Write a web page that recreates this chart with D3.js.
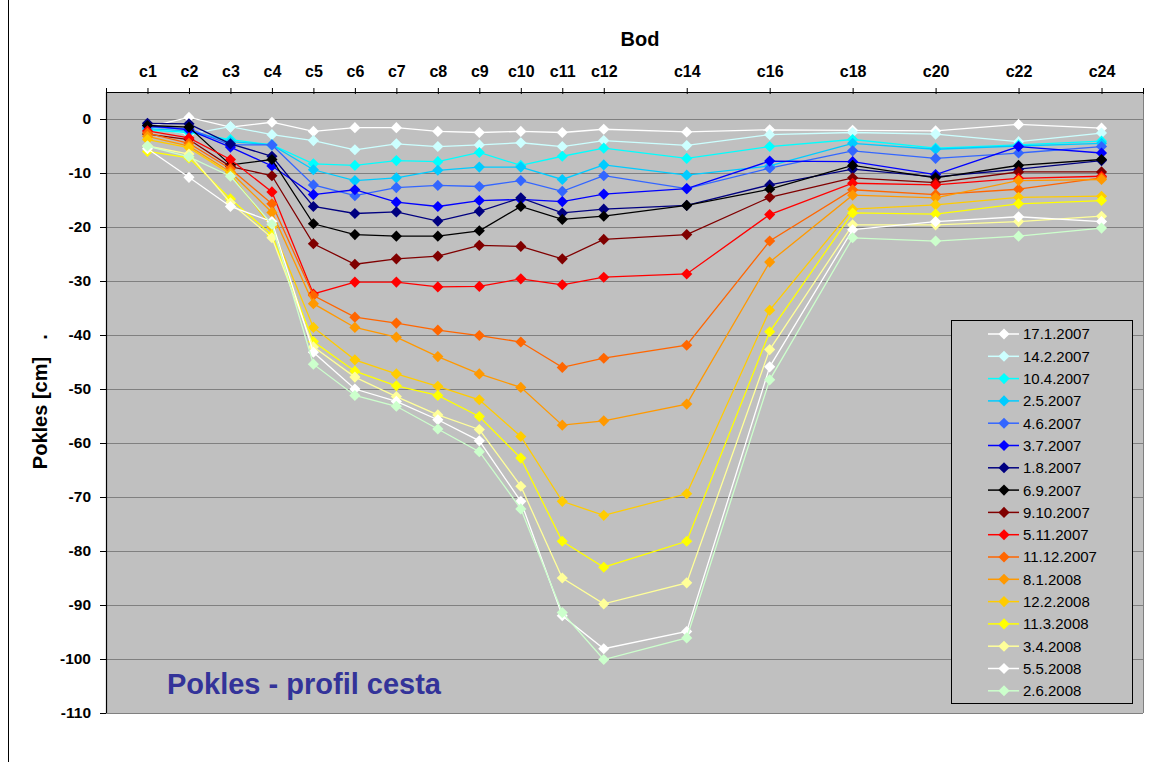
<!DOCTYPE html>
<html>
<head>
<meta charset="utf-8">
<script src="https://cdn.jsdelivr.net/npm/d3@7"></script>
<style>
  body { margin: 0; background: #fff; }
  svg { display: block; font-family: "Liberation Sans", Arial, sans-serif; }
</style>
</head>
<body>
<svg id="chart" width="1155" height="762"></svg>
<script>
// measuring points along the road profile
const categories = ["c1", "c2", "c3", "c4", "c5", "c6", "c7", "c8", "c9", "c10", "c11", "c12", "c14", "c16", "c18", "c20", "c22", "c24"];
const yTicks = [0, -10, -20, -30, -40, -50, -60, -70, -80, -90, -100, -110];

const dates = ["17.1.2007", "14.2.2007", "10.4.2007", "2.5.2007", "4.6.2007", "3.7.2007", "1.8.2007", "6.9.2007",
  "9.10.2007", "5.11.2007", "11.12.2007", "8.1.2008", "12.2.2008", "11.3.2008", "3.4.2008", "5.5.2008", "2.6.2008"];
const colors = ["#ffffff", "#ccffff", "#00ffff", "#00ccff", "#3366ff", "#0000ff", "#000080", "#000000",
  "#800000", "#ff0000", "#ff6600", "#ff9900", "#ffcc00", "#ffff00", "#ffff99", "#ffffff", "#ccffcc"];

// settlement [cm], one value per point
const s17_1_2007  = [-1.5, 0.3, -1.5, -0.6, -2.3, -1.6, -1.6, -2.3, -2.5, -2.3, -2.5, -1.9, -2.4, -2.0, -2.1, -2.2, -1.0, -1.7];
const s14_2_2007  = [-1.5, -2.8, -1.4, -2.9, -4.0, -5.7, -4.6, -5.1, -4.8, -4.4, -5.1, -4.0, -4.9, -2.9, -2.5, -2.8, -4.2, -2.6];
const s10_4_2007  = [-2.0, -2.5, -3.8, -4.8, -8.3, -8.6, -7.7, -7.9, -6.2, -8.6, -6.9, -5.4, -7.3, -5.1, -3.8, -5.4, -4.8, -4.1];
const s2_5_2007   = [-1.8, -2.2, -4.2, -4.8, -9.4, -11.4, -10.9, -9.5, -8.9, -8.9, -11.2, -8.5, -10.4, -8.7, -4.5, -5.6, -5.0, -4.5];
const s4_6_2007   = [-1.5, -1.8, -4.8, -4.8, -12.2, -14.2, -12.7, -12.3, -12.5, -11.4, -13.4, -10.5, -12.9, -9.1, -5.9, -7.3, -6.3, -5.1];
const s3_7_2007   = [-1.2, -2.0, -5.2, -8.7, -14.0, -13.1, -15.4, -16.2, -15.1, -14.9, -15.3, -13.9, -12.9, -7.8, -7.9, -10.3, -5.1, -6.3];
const s1_8_2007   = [-0.8, -0.9, -4.6, -6.9, -16.2, -17.5, -17.2, -18.9, -17.1, -14.6, -17.4, -16.7, -16.0, -12.2, -9.3, -10.7, -9.3, -7.7];
const s6_9_2007   = [-1.2, -1.5, -8.5, -7.5, -19.4, -21.4, -21.7, -21.7, -20.7, -16.2, -18.6, -18.0, -16.0, -13.0, -8.6, -10.9, -8.6, -7.5];
const s9_10_2007  = [-2.8, -3.8, -8.8, -10.5, -23.1, -26.9, -25.9, -25.4, -23.4, -23.6, -25.9, -22.3, -21.4, -14.5, -10.9, -11.8, -9.8, -9.8];
const s5_11_2007  = [-2.2, -3.5, -7.5, -13.5, -32.4, -30.2, -30.2, -31.1, -31.0, -29.6, -30.7, -29.3, -28.7, -17.7, -11.9, -12.2, -11.0, -10.6];
const s11_12_2007 = [-2.6, -4.5, -9.2, -15.7, -32.7, -36.7, -37.8, -39.1, -40.1, -41.3, -46.0, -44.3, -41.9, -22.6, -13.1, -14.0, -13.0, -10.9];
const s8_1_2008   = [-3.2, -5.0, -9.8, -17.3, -34.2, -38.6, -40.4, -44.0, -47.2, -49.7, -56.7, -55.9, -52.8, -26.5, -14.1, -14.6, -11.4, -11.2];
const s12_2_2008  = [-3.8, -5.3, -10.2, -20.0, -38.6, -44.6, -47.2, -49.5, -52.0, -58.8, -70.8, -73.4, -69.4, -35.4, -16.7, -15.9, -14.5, -14.3];
const s11_3_2008  = [-6.0, -7.2, -14.8, -21.5, -41.2, -46.7, -49.4, -51.2, -55.1, -62.8, -78.2, -83.0, -78.2, -39.4, -17.4, -17.6, -15.7, -15.1];
const s3_4_2008   = [-5.0, -6.5, -15.5, -22.0, -42.2, -47.8, -51.4, -54.8, -57.5, -68.0, -85.0, -89.8, -85.9, -42.7, -19.6, -19.6, -19.0, -18.0];
const s5_5_2008   = [-5.5, -10.8, -16.2, -19.0, -43.2, -50.0, -52.3, -55.7, -59.6, -70.8, -92.0, -98.1, -94.9, -45.9, -20.5, -19.0, -18.1, -19.0];
const s2_6_2008   = [-5.0, -7.0, -10.6, -19.5, -45.4, -51.2, -53.2, -57.4, -61.6, -72.2, -91.4, -100.1, -96.1, -48.3, -22.0, -22.6, -21.7, -20.2];

const seriesValues = [s17_1_2007, s14_2_2007, s10_4_2007, s2_5_2007, s4_6_2007, s3_7_2007, s1_8_2007, s6_9_2007,
  s9_10_2007, s5_11_2007, s11_12_2007, s8_1_2008, s12_2_2008, s11_3_2008, s3_4_2008, s5_5_2008, s2_6_2008];

const series = dates.map((d, i) => ({
  name: d,
  color: colors[i],
  points: categories.map((c, j) => ({ pos: +c.slice(1), value: seriesValues[i][j] }))
}));

const plot = { left: 106, right: 1143, top: 92, bottom: 713 };
const svg = d3.select("#chart");

const x = d3.scaleLinear().domain([0, 25]).range([plot.left, plot.right]);
const y = d3.scaleLinear().domain([-110, 5]).range([plot.bottom, plot.top]);

// outer chart frame (left edge visible)
svg.append("line")
  .attr("x1", 8.5).attr("x2", 8.5).attr("y1", 0).attr("y2", 762)
  .attr("stroke", "#000").attr("stroke-width", 1);

// plot background
svg.append("rect")
  .attr("x", plot.left).attr("y", plot.top)
  .attr("width", plot.right - plot.left).attr("height", plot.bottom - plot.top)
  .attr("fill", "#c0c0c0");

svg.append("line")
  .attr("x1", plot.right + 0.5).attr("x2", plot.right + 0.5)
  .attr("y1", plot.top).attr("y2", plot.bottom)
  .attr("stroke", "#808080");

// gridlines
svg.append("g")
  .selectAll("line")
  .data(yTicks)
  .enter().append("line")
    .attr("x1", plot.left).attr("x2", plot.right)
    .attr("y1", d => Math.round(y(d)) + 0.5).attr("y2", d => Math.round(y(d)) + 0.5)
    .attr("stroke", "#808080").attr("stroke-width", 1.2);

// axes
const xTickVals = [0].concat(categories.map(c => +c.slice(1)), [25]);
const xAxis = d3.axisTop(x)
  .tickValues(xTickVals)
  .tickFormat(v => (v === 0 || v === 25) ? "" : "c" + v)
  .tickSizeInner(5).tickSizeOuter(0).tickPadding(10);

svg.append("g")
  .attr("transform", `translate(0,${plot.top})`)
  .call(xAxis)
  .call(g => g.selectAll(".tick line").attr("y2", -4).attr("y1", 2))
  .call(g => g.selectAll("text").attr("font-size", 16).attr("font-weight", "bold").attr("fill", "#000"))
  .call(g => g.select(".domain").attr("stroke-width", 1.2));

const yAxis = d3.axisLeft(y)
  .tickValues(yTicks)
  .tickFormat(d => String(d))
  .tickSizeInner(6).tickSizeOuter(0).tickPadding(9);

svg.append("g")
  .attr("transform", `translate(${plot.left},0)`)
  .call(yAxis)
  .call(g => g.selectAll("text").attr("font-size", 15.5).attr("font-weight", "bold").attr("fill", "#000"))
  .call(g => g.select(".domain").attr("d", `M0.5,${plot.top}V${plot.bottom}`).attr("stroke-width", 1.2));

// titles
svg.append("text")
  .attr("x", 640).attr("y", 46)
  .attr("text-anchor", "middle")
  .attr("font-size", 20).attr("font-weight", "bold")
  .text("Bod");

svg.append("text")
  .attr("transform", "translate(47,413) rotate(-90)")
  .attr("text-anchor", "middle")
  .attr("font-size", 20).attr("font-weight", "bold")
  .text("Pokles [cm]");

svg.append("text")
  .attr("transform", "translate(47,337) rotate(-90)")
  .attr("text-anchor", "middle")
  .attr("font-size", 20).attr("font-weight", "bold")
  .text(".");

svg.append("text")
  .attr("x", 167).attr("y", 694)
  .attr("font-size", 29).attr("font-weight", "bold")
  .attr("fill", "#333399")
  .text("Pokles - profil cesta");

// series
const line = d3.line().x(d => x(d.pos)).y(d => y(d.value));
const diamond = d3.symbol().type(d3.symbolSquare).size(62);

const sg = svg.append("g")
  .selectAll("g")
  .data(series)
  .enter().append("g");

sg.append("path")
  .attr("d", d => line(d.points))
  .attr("fill", "none")
  .attr("stroke", d => d.color)
  .attr("stroke-width", 1.3);

sg.selectAll("path.m")
  .data(d => d.points.map(p => ({ p, color: d.color })))
  .enter().append("path")
    .attr("class", "m")
    .attr("d", diamond)
    .attr("transform", d => `translate(${x(d.p.pos)},${y(d.p.value)}) rotate(45)`)
    .attr("fill", d => d.color);

// legend
const legend = svg.append("g");
legend.append("rect")
  .attr("x", 951.5).attr("y", 320.5)
  .attr("width", 181).attr("height", 383)
  .attr("fill", "#c0c0c0").attr("stroke", "#000");

const item = legend.selectAll("g")
  .data(series)
  .enter().append("g")
    .attr("transform", (d, i) => `translate(0,${334 + i * 22.3})`);

item.append("line")
  .attr("x1", 988).attr("x2", 1019)
  .attr("stroke", d => d.color).attr("stroke-width", 1.5);

item.append("path")
  .attr("d", diamond)
  .attr("transform", "translate(1004,0) rotate(45)")
  .attr("fill", d => d.color);

item.append("text")
  .attr("x", 1023).attr("y", 0).attr("dy", "0.36em")
  .attr("font-size", 15)
  .text(d => d.name);
</script>
</body>
</html>
